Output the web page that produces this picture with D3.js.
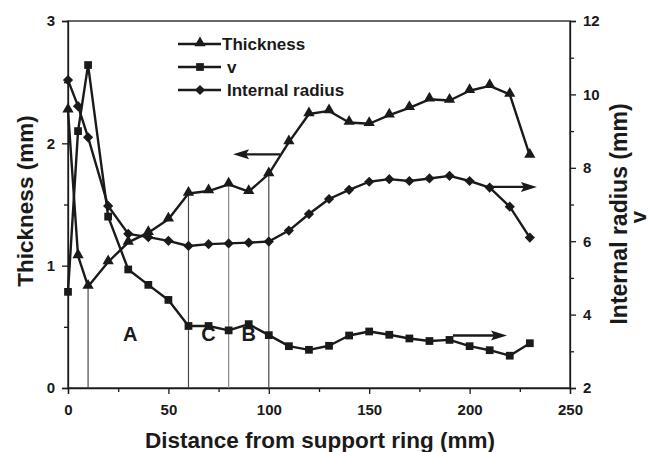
<!DOCTYPE html>
<html><head><meta charset="utf-8">
<script src="https://cdn.jsdelivr.net/npm/d3@7"></script>
<style>body{margin:0;background:#fff}svg{display:block}text{font-family:"Liberation Sans",Arial,sans-serif;font-weight:bold;fill:#1a1a1a}</style>
</head><body><svg id="c" width="652" height="452"></svg>
<script>
const distance = [0,5,10,20,30,40,50,60,70,80,90,100,110,120,130,140,150,160,170,180,190,200,210,220,230];
const thickness = [2.27,1.08,0.83,1.03,1.19,1.27,1.38,1.59,1.61,1.665,1.605,1.75,2.01,2.24,2.265,2.17,2.16,2.23,2.29,2.36,2.35,2.43,2.47,2.40,1.90];
const vValues = [4.62,9.00,10.80,6.67,5.23,4.81,4.40,3.69,3.69,3.57,3.74,3.44,3.14,3.04,3.15,3.43,3.54,3.45,3.35,3.28,3.31,3.14,3.03,2.88,3.22];
const internalRadius = [10.39,9.68,8.83,6.96,6.20,6.11,6.01,5.87,5.92,5.94,5.96,5.99,6.29,6.74,7.15,7.40,7.62,7.69,7.64,7.71,7.78,7.64,7.46,6.94,6.10];
const xTicks = [0,50,100,150,200,250];
const leftTicks = [0,1,2,3];
const rightTicks = [2,4,6,8,10,12];
const seriesNames = ["Thickness","v","Internal radius"];
const regionLines = [10,60,80,100];
const regionLabels = [{t:"A",x:31},{t:"C",x:70},{t:"B",x:90}];

const W=652,H=452,m={l:68,r:82,t:21,b:64};
const svg=d3.select("#c");
const x=d3.scaleLinear().domain([0,250]).range([m.l,W-m.r]);
const yL=d3.scaleLinear().domain([0,3]).range([H-m.b,m.t]);
const yR=d3.scaleLinear().domain([2,12]).range([H-m.b,m.t]);
const ink="#1a1a1a";

// frame
svg.append("rect").attr("x",m.l).attr("y",m.t).attr("width",W-m.l-m.r).attr("height",H-m.t-m.b).attr("fill","none").attr("stroke",ink).attr("stroke-width",1.3);

function styleAxis(g){g.select(".domain").attr("stroke",ink).attr("stroke-width",1.3);g.selectAll("line").attr("stroke",ink).attr("stroke-width",1.3);g.selectAll("text").style("font-size","15px").attr("fill",ink);}
// bottom axis
const gx=svg.append("g").attr("transform",`translate(0,${H-m.b})`).call(d3.axisBottom(x).tickValues(xTicks).tickSize(6).tickPadding(10).tickFormat(d3.format("d")));
styleAxis(gx);
svg.append("g").attr("transform",`translate(0,${H-m.b})`).call(d3.axisBottom(x).tickValues(d3.range(25,250,50)).tickSize(4).tickFormat("")).call(g=>{g.select(".domain").remove();g.selectAll("line").attr("stroke",ink).attr("stroke-width",1.3);});
// left axis
const gl=svg.append("g").attr("transform",`translate(${m.l},0)`).call(d3.axisLeft(yL).tickValues(leftTicks).tickSize(6).tickPadding(7).tickFormat(d3.format("d")));
styleAxis(gl);
svg.append("g").attr("transform",`translate(${m.l},0)`).call(d3.axisLeft(yL).tickValues([0.5,1.5,2.5]).tickSize(4).tickFormat("")).call(g=>{g.select(".domain").remove();g.selectAll("line").attr("stroke",ink).attr("stroke-width",1.3);});
// right axis
const gr=svg.append("g").attr("transform",`translate(${W-m.r},0)`).call(d3.axisRight(yR).tickValues(rightTicks).tickSize(6).tickPadding(7).tickFormat(d3.format("d")));
styleAxis(gr);
svg.append("g").attr("transform",`translate(${W-m.r},0)`).call(d3.axisRight(yR).tickValues([3,5,7,9,11]).tickSize(4).tickFormat("")).call(g=>{g.select(".domain").remove();g.selectAll("line").attr("stroke",ink).attr("stroke-width",1.3);});

// axis titles
svg.append("text").attr("x",320).attr("y",448).attr("text-anchor","middle").style("font-size","22.5px").text("Distance from support ring (mm)");
svg.append("text").attr("transform",`translate(33,201) rotate(-90)`).attr("text-anchor","middle").style("font-size","22.5px").text("Thickness (mm)");
svg.append("text").attr("transform",`translate(627,214) rotate(-90)`).attr("text-anchor","middle").style("font-size","23px").text("Internal radius (mm)");
svg.append("text").attr("transform",`translate(646,217) rotate(-90)`).attr("text-anchor","middle").style("font-size","22px").text("v");

// region lines
regionLines.forEach(d=>{
  const i=distance.indexOf(d);
  svg.append("line").attr("x1",x(d)).attr("x2",x(d)).attr("y1",yL(0)).attr("y2",yL(thickness[i])).attr("stroke",d===80?"#8a8a8a":"#4a4a4a").attr("stroke-width",1.2);
});
regionLabels.forEach(d=>svg.append("text").attr("x",x(d.x)).attr("y",341).attr("text-anchor","middle").style("font-size","20px").text(d.t));

// series
const sym={tri:d3.symbol().type(d3.symbolTriangle).size(55),sq:d3.symbol().type(d3.symbolSquare).size(60),dia:d3.symbol().type(d3.symbolSquare).size(52)};
function series(vals,ys,s,rot){
  const pts=distance.map((d,i)=>[x(d),ys(vals[i])]);
  svg.append("path").attr("d",d3.line()(pts)).attr("fill","none").attr("stroke",ink).attr("stroke-width",2.4).attr("stroke-linejoin","round");
  svg.selectAll(null).data(pts).enter().append("path").attr("d",s()).attr("fill",ink)
    .attr("transform",p=>`translate(${p[0]},${p[1]+(s===sym.tri?-1:0)})${rot?" rotate(45)":""}`);
}
series(thickness,yL,sym.tri,false);
series(vValues,yR,sym.sq,false);
series(internalRadius,yR,sym.dia,true);

// arrows
function arrow(x1,x2,y){
  const dir=Math.sign(x2-x1);
  svg.append("line").attr("x1",x1).attr("x2",x2-dir*12).attr("y1",y).attr("y2",y).attr("stroke",ink).attr("stroke-width",2.4);
  svg.append("path").attr("d",`M${x2},${y}L${x2-dir*16},${y-5}L${x2-dir*13},${y}L${x2-dir*16},${y+5}Z`).attr("fill",ink);
}
arrow(x(105.6),x(82.2),yL(1.91));
arrow(x(211),x(233.5),yR(7.48));
arrow(x(191.7),x(218.6),yR(3.43));

// legend
const leg=[{n:seriesNames[0],s:sym.tri,r:false},{n:seriesNames[1],s:sym.sq,r:false},{n:seriesNames[2],s:sym.dia,r:true}];
leg.forEach((d,i)=>{
  const yy=44+i*23;
  svg.append("line").attr("x1",178).attr("x2",221).attr("y1",yy).attr("y2",yy).attr("stroke",ink).attr("stroke-width",2.4);
  svg.append("path").attr("d",d.s()).attr("fill",ink).attr("transform",`translate(200,${yy-(i===0?1:0)})${d.r?" rotate(45)":""}`);
  svg.append("text").attr("x",i===0?222:227).attr("y",yy+6).style("font-size","17px").text(d.n);
});
</script></body></html>
